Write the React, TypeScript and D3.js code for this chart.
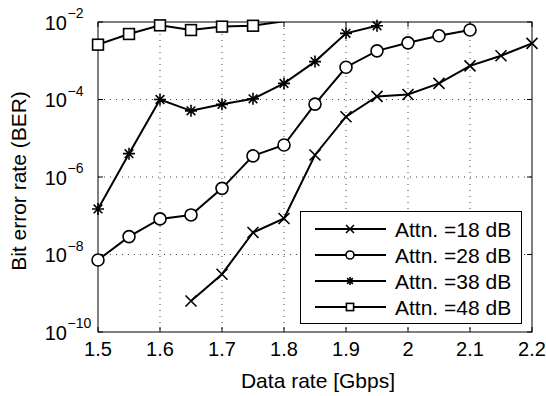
import React from "react";
import * as d3 from "d3";

const xTicks = [1.5, 1.6, 1.7, 1.8, 1.9, 2.0, 2.1, 2.2];
const xTickLabels = ["1.5", "1.6", "1.7", "1.8", "1.9", "2", "2.1", "2.2"];
const yTickExps = [-2, -4, -6, -8, -10];

const x18 = [1.65, 1.7, 1.75, 1.8, 1.85, 1.9, 1.95, 2.0, 2.05, 2.1, 2.15, 2.2];
const ber18 = [6.3e-10, 3.1e-9, 3.7e-8, 8.5e-8, 3.7e-6, 3.6e-5, 1.2e-4, 1.35e-4, 2.6e-4, 7.4e-4, 1.35e-3, 2.8e-3];

const x28 = [1.5, 1.55, 1.6, 1.65, 1.7, 1.75, 1.8, 1.85, 1.9, 1.95, 2.0, 2.05, 2.1];
const ber28 = [7.2e-9, 2.9e-8, 8.3e-8, 1.05e-7, 5.1e-7, 3.5e-6, 6.7e-6, 7.6e-5, 6.8e-4, 1.8e-3, 2.9e-3, 4.4e-3, 6.2e-3];

const x38 = [1.5, 1.55, 1.6, 1.65, 1.7, 1.75, 1.8, 1.85, 1.9, 1.95];
const ber38 = [1.5e-7, 4e-6, 1e-4, 5.1e-5, 7.5e-5, 1.04e-4, 2.6e-4, 9.5e-4, 5.1e-3, 8e-3];

const x48 = [1.5, 1.55, 1.6, 1.65, 1.7, 1.75, 1.8];
const ber48 = [2.6e-3, 4.9e-3, 8.2e-3, 6.2e-3, 7.6e-3, 8e-3, 1.05e-2];

const seriesNames = ["Attn. =18 dB", "Attn. =28 dB", "Attn. =38 dB", "Attn. =48 dB"];
const markerKinds = ["x", "o", "star", "square"];

const W = 546;
const H = 396;
const left = 98, right = 532, top = 22, bottom = 332;
const font = "'Liberation Sans', Arial, Helvetica, sans-serif";

function Marker({ kind, cx, cy, s }: { kind: string; cx: number; cy: number; s: number }) {
  const h = s / 2;
  const common = { stroke: "#000", strokeWidth: 1.6, fill: "none" };
  if (kind === "x") {
    return (
      <path {...common} d={`M${cx - h},${cy - h}L${cx + h},${cy + h}M${cx - h},${cy + h}L${cx + h},${cy - h}`} />
    );
  }
  if (kind === "o") {
    return <circle {...common} cx={cx} cy={cy} r={h} fill="#fff" />;
  }
  if (kind === "square") {
    return <rect {...common} x={cx - h * 0.9} y={cy - h * 0.9} width={h * 1.8} height={h * 1.8} fill="#fff" />;
  }
  // star: x + plus
  const d = h * 0.72;
  return (
    <path
      {...common}
      d={`M${cx - h},${cy}L${cx + h},${cy}M${cx},${cy - h}L${cx},${cy + h}M${cx - d},${cy - d}L${cx + d},${cy + d}M${cx - d},${cy + d}L${cx + d},${cy - d}`}
    />
  );
}

export default function App() {
  const xs = d3.scaleLinear().domain([1.5, 2.2]).range([left, right]);
  const ys = d3.scaleLog().domain([1e-10, 1e-2]).range([bottom, top]);
  const line = d3
    .line<[number, number]>()
    .x((d) => xs(d[0]))
    .y((d) => ys(d[1]));

  const series = [
    { xv: x18, yv: ber18 },
    { xv: x28, yv: ber28 },
    { xv: x38, yv: ber38 },
    { xv: x48, yv: ber48 },
  ];

  const gridX = xTicks.slice(1, -1);
  const gridY = yTickExps.slice(1, -1);

  const legX = 300.5, legY = 211.5, legW = 221, legH = 112;
  const rowY = (i: number) => legY + 17.5 + i * 26;

  return (
    <svg width={W} height={H} style={{ position: "absolute", left: 0, top: 0, background: "#fff" }} fontFamily={font}>
      <rect x={0} y={0} width={W} height={H} fill="#fff" />
      <defs>
        <clipPath id="plot">
          <rect x={left} y={top} width={right - left} height={bottom - top} />
        </clipPath>
      </defs>
      {/* grid */}
      {gridX.map((t) => (
        <line key={"gx" + t} x1={xs(t)} x2={xs(t)} y1={top} y2={bottom} stroke="#444" strokeWidth={1} strokeDasharray="1 5" />
      ))}
      {gridY.map((e) => (
        <line key={"gy" + e} x1={left} x2={right} y1={ys(Math.pow(10, e))} y2={ys(Math.pow(10, e))} stroke="#444" strokeWidth={1} strokeDasharray="1 5" />
      ))}
      {/* axes box */}
      <rect x={left} y={top} width={right - left} height={bottom - top} fill="none" stroke="#000" strokeWidth={1} />
      {/* ticks */}
      {xTicks.map((t) => (
        <g key={"xt" + t}>
          <line x1={xs(t)} x2={xs(t)} y1={bottom} y2={bottom - 5} stroke="#000" />
          <line x1={xs(t)} x2={xs(t)} y1={top} y2={top + 5} stroke="#000" />
        </g>
      ))}
      {yTickExps.map((e) => (
        <g key={"yt" + e}>
          <line x1={left} x2={left + 5} y1={ys(Math.pow(10, e))} y2={ys(Math.pow(10, e))} stroke="#000" />
          <line x1={right} x2={right - 5} y1={ys(Math.pow(10, e))} y2={ys(Math.pow(10, e))} stroke="#000" />
        </g>
      ))}
      {/* tick labels */}
      {xTicks.map((t, i) => (
        <text key={"xl" + t} x={xs(t)} y={356} textAnchor="middle" fontSize={20} fill="#000">
          {xTickLabels[i]}
        </text>
      ))}
      {yTickExps.map((e) => {
        const y = ys(Math.pow(10, e));
        return (
          <g key={"yl" + e}>
            <text x={67} y={y + 7.5} textAnchor="end" fontSize={20} fill="#000">
              10
            </text>
            <text x={67.5} y={y - 4} textAnchor="start" fontSize={14} fill="#000">
              {"\u2212" + Math.abs(e)}
            </text>
          </g>
        );
      })}
      {/* axis labels */}
      <text x={318} y={388} textAnchor="middle" fontSize={21} fill="#000">
        Data rate [Gbps]
      </text>
      <text transform={`translate(26,181) rotate(-90)`} textAnchor="middle" fontSize={21} fill="#000">
        Bit error rate (BER)
      </text>
      {/* series lines */}
      <g clipPath="url(#plot)">
        {series.map((s, i) => (
          <path
            key={"ln" + i}
            d={line(s.xv.map((v, j) => [v, s.yv[j]] as [number, number])) || ""}
            fill="none"
            stroke="#000"
            strokeWidth={2}
          />
        ))}
      </g>
      {/* markers */}
      {series.map((s, i) =>
        s.xv.map((v, j) =>
          s.yv[j] <= 1e-2 && s.yv[j] >= 1e-10 ? (
            <Marker key={"m" + i + "_" + j} kind={markerKinds[i]} cx={xs(v)} cy={ys(s.yv[j])} s={i === 0 ? 11 : 12} />
          ) : null
        )
      )}
      {/* legend */}
      <rect x={legX} y={legY} width={legW} height={legH} fill="#fff" stroke="#000" strokeWidth={1} />
      {seriesNames.map((n, i) => (
        <g key={"lg" + i}>
          <line x1={315} x2={386} y1={rowY(i)} y2={rowY(i)} stroke="#000" strokeWidth={2} />
          <Marker kind={markerKinds[i]} cx={350} cy={rowY(i)} s={8} />
          <text x={395} y={rowY(i) + 7.5} fontSize={21} fill="#000">
            {n}
          </text>
        </g>
      ))}
    </svg>
  );
}
